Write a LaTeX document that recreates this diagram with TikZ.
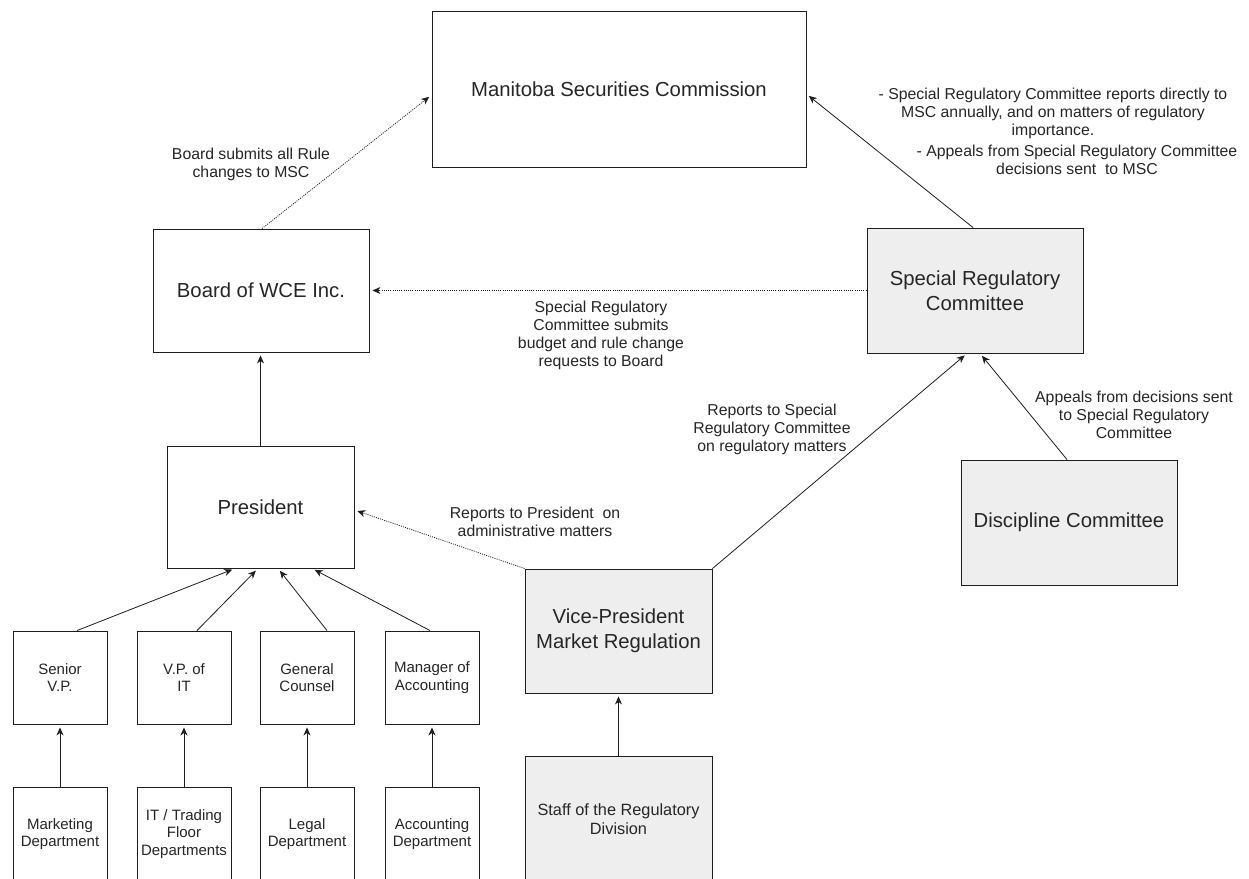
\documentclass[tikz,border=0pt]{standalone}
\usepackage{fontspec}
\setmainfont{Liberation Sans}
\usetikzlibrary{arrows.meta}
\definecolor{gfill}{RGB}{238,238,238}
\definecolor{lcol}{RGB}{30,30,30}
\newcommand{\fbig}{\fontsize{20.3bp}{25bp}\selectfont}
\newcommand{\fsmall}{\fontsize{15bp}{17.5bp}\selectfont}
\newcommand{\flbl}{\fontsize{15.8bp}{18bp}\selectfont}
\newcommand{\fstaff}{\fontsize{16.3bp}{19bp}\selectfont}
\tikzset{
  box/.style={draw=lcol, line width=0.9bp, inner sep=0pt, align=center, font=\fbig, text=black!85},
  gbox/.style={box, fill=gfill},
  sbox/.style={box, font=\fsmall, minimum width=94bp, minimum height=93bp},
  lbl/.style={inner sep=0pt, align=center, font=\flbl, text=black!85},
  arr/.style={draw=lcol, line width=0.8bp, -{Stealth[length=8bp,width=7bp,inset=2.5bp]}, shorten >=3bp},
  dotarr/.style={arr, dash pattern=on 1bp off 1.2bp}
}
\begin{document}
\begin{tikzpicture}[x=1bp,y=-1bp]
\useasboundingbox (0,0) rectangle (1249,879);
\fill[white] (0,0) rectangle (1249,879);
% boxes
\node[box, minimum width=374bp, minimum height=156bp] (msc) at (619,89) {Manitoba Securities Commission};
\node[box, minimum width=216bp, minimum height=123bp] (board) at (261,290.5) {Board of WCE Inc.};
\node[gbox, minimum width=216bp, minimum height=125bp] (src) at (975,290.5) {Special Regulatory\\Committee};
\node[box, minimum width=187bp, minimum height=122bp] (pres) at (260.5,507) {President};
\node[gbox, minimum width=216bp, minimum height=125bp] (disc) at (1069,522.5) {Discipline Committee};
\node[gbox, minimum width=187bp, minimum height=124bp] (vpmr) at (618.5,631) {Vice-President\\Market Regulation};
\node[gbox, font=\fstaff, minimum width=187bp, minimum height=126bp] (staff) at (618.5,819) {Staff of the Regulatory\\Division};
\node[sbox] (svp) at (60,677.5) {Senior\\V.P.};
\node[sbox] (vpit) at (184,677.5) {V.P. of\\IT};
\node[sbox] (gc) at (307,677.5) {General\\Counsel};
\node[sbox] (mac) at (432,677.5) {Manager of\\Accounting};
\node[sbox, minimum height=94bp] (mkt) at (60,834) {Marketing\\Department};
\node[sbox, minimum height=94bp] (itd) at (184,834) {IT / Trading\\Floor\\Departments};
\node[sbox, minimum height=94bp] (leg) at (307,834) {Legal\\Department};
\node[sbox, minimum height=94bp] (acc) at (432,834) {Accounting\\Department};
% connectors
\draw[dotarr] ([xshift=1bp]board.north) -- ([yshift=-6bp]msc.west);
\draw[arr] ([xshift=-2bp]src.north) -- ([yshift=-5bp]msc.east);
\draw[dotarr] (src.west) -- (board.east);
\draw[arr] (pres.north) -- (pres.north |- board.south);
\draw[dotarr] (vpmr.north west) -- ([yshift=-3bp]pres.east);
\draw[arr] (vpmr.north east) -- ([xshift=-8bp]src.south);
\draw[arr] ([xshift=-2bp]disc.north) -- ([xshift=5bp]src.south);
\draw[arr] ([xshift=17bp]svp.north) -- ([xshift=-25.5bp]pres.south);
\draw[arr] ([xshift=13bp]vpit.north) -- ([xshift=-2.5bp]pres.south);
\draw[arr] ([xshift=20bp]gc.north) -- ([xshift=17.5bp]pres.south);
\draw[arr] ([xshift=-2bp]mac.north) -- ([xshift=51.5bp]pres.south);
\draw[arr] (mkt.north) -- (svp.south);
\draw[arr] (itd.north) -- (vpit.south);
\draw[arr] (leg.north) -- (gc.south);
\draw[arr] (acc.north) -- (mac.south);
\draw[arr] (staff.north) -- (vpmr.south);
% labels
\node[lbl] (l1) at (251,164) {Board submits all Rule\\changes to MSC};
\node[lbl] (l2a) at (1053,113) {- Special Regulatory Committee reports directly to\\MSC annually, and on matters of regulatory\\importance.};
\node[lbl] (l2b) at (1077,159.5) {- Appeals from Special Regulatory Committee\\decisions sent\ \ to MSC};
\node[lbl] (l3) at (601,335.5) {Special Regulatory\\Committee submits\\budget and rule change\\requests to Board};
\node[lbl] (l4) at (535,522) {Reports to President\ \ on\\administrative matters};
\node[lbl] (l5) at (772,429.5) {Reports to Special\\Regulatory Committee\\on regulatory matters};
\node[lbl] (l6) at (1134,414.5) {Appeals from decisions sent\\to Special Regulatory\\Committee};
\end{tikzpicture}
\end{document}
